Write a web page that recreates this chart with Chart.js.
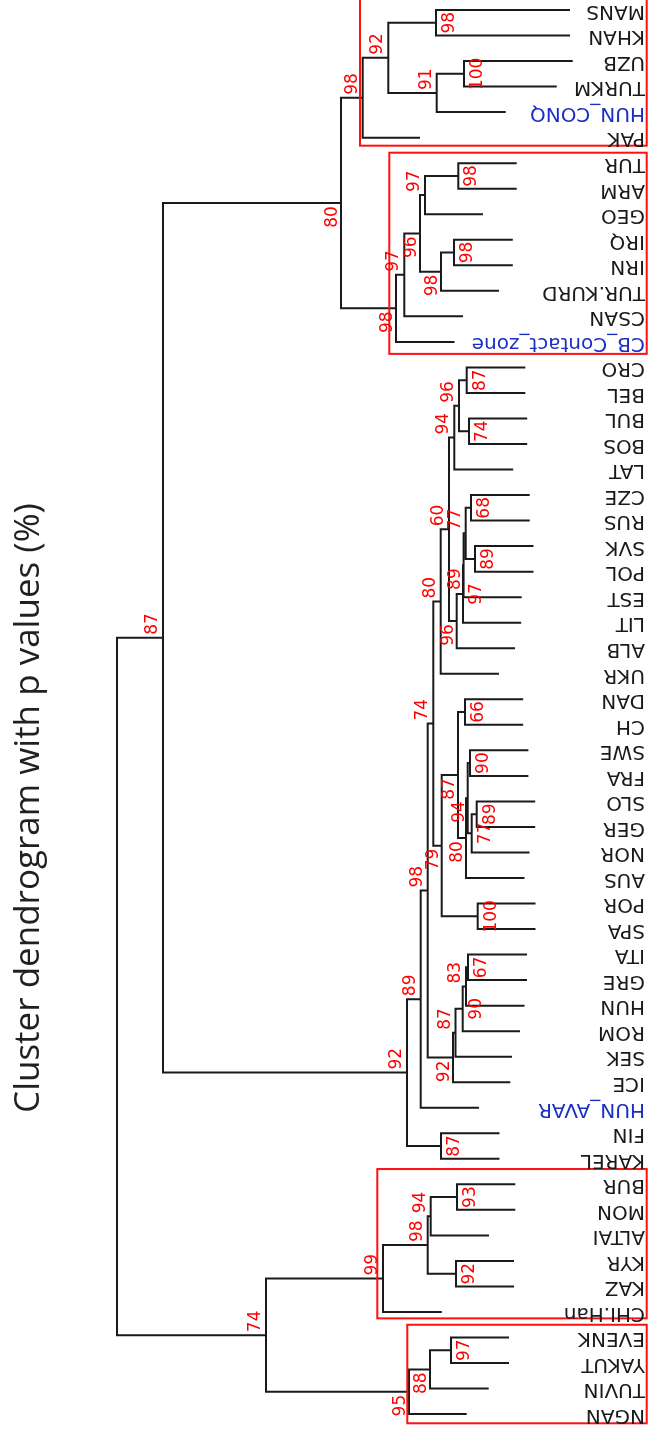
<!DOCTYPE html>
<html>
<head>
<meta charset="utf-8">
<script src="https://cdn.jsdelivr.net/npm/chart.js@4.4.1/dist/chart.umd.min.js"></script>
<style>
  html, body { margin: 0; padding: 0; background: #fff; }
  #wrap { width: 648px; height: 1433px; }
</style>
</head>
<body>
<div id="wrap"><canvas id="c" width="648" height="1433"></canvas></div>
<script>
// leaves, top to bottom
const leaves = [
  'MANS', 'KHAN', 'UZB', 'TURKM', 'HUN_CONQ', 'PAK',
  'TUR', 'ARM', 'GEO', 'IRQ', 'IRN', 'TUR.KURD', 'CSAN', 'CB_Contact_zone',
  'CRO', 'BEL', 'BUL', 'BOS', 'LAT', 'CZE', 'RUS', 'SVK', 'POL', 'EST', 'LIT', 'ALB', 'UKR',
  'DAN', 'CH', 'SWE', 'FRA', 'SLO', 'GER', 'NOR', 'AUS', 'POR', 'SPA',
  'ITA', 'GRE', 'HUN', 'ROM', 'SEK', 'ICE', 'HUN_AVAR', 'FIN', 'KAREL',
  'BUR', 'MON', 'ALTAI', 'KYR', 'KAZ', 'CHI.Han',
  'EVENK', 'YAKUT', 'TUVIN', 'NGAN'
]
const blueLeaves = ['HUN_CONQ', 'CB_Contact_zone', 'HUN_AVAR']

// height where each leaf branch ends
const leafEnd = [
  0.78, 0.78, 0.753, 0.913, 1.423, 2.28,
  1.313, 1.313, 1.65, 1.352, 1.352, 1.49, 1.85, 1.935,
  1.227, 1.227, 1.208, 1.208, 1.348, 1.183, 1.183, 1.145, 1.145, 1.263, 1.268, 1.33, 1.49,
  1.248, 1.248, 1.196, 1.196, 1.128, 1.128, 1.185, 1.235, 1.125, 1.125,
  1.21, 1.21, 1.235, 1.28, 1.36, 1.377, 1.69, 1.485, 1.485,
  1.327, 1.327, 1.59, 1.34, 1.34, 2.062,
  1.39, 1.39, 1.593, 1.813
]

// hclust style merges: negative = leaf number, positive = earlier merge
const merges = [
  [-1, -2], [-3, -4], [2, -5], [1, 3], [4, -6],
  [-7, -8], [6, -9], [-10, -11], [8, -12], [7, 9], [10, -13], [11, -14], [5, 12],
  [-15, -16], [-17, -18], [14, 15], [16, -19],
  [-20, -21], [-22, -23], [18, 19], [20, -24], [21, -25], [22, -26], [17, 23], [24, -27],
  [-28, -29], [-30, -31], [-32, -33], [28, -34], [27, 29], [30, -35], [26, 31],
  [-36, -37], [32, 33], [25, 34],
  [-38, -39], [36, -40], [37, -41], [38, -42], [39, -43], [35, 40], [41, -44],
  [-45, -46], [42, 43],
  [-47, -48], [45, -49], [-50, -51], [46, 47], [48, -52],
  [-53, -54], [50, -55], [51, -56], [49, 52],
  [13, 44], [54, 53]
]
const mergeHeight = [
  2.12, 1.84, 2.113, 2.597, 2.853,
  1.897, 2.23, 1.94, 2.07, 2.28, 2.437, 2.52, 3.07,
  1.813, 1.79, 1.89, 1.937,
  1.77, 1.73, 1.823, 1.844, 1.85, 1.913, 1.99, 2.073,
  1.83, 1.78, 1.713, 1.763, 1.803, 1.82, 1.9,
  1.703, 2.063, 2.147,
  1.8, 1.82, 1.853, 1.925, 1.95, 2.203, 2.273,
  2.07, 2.41,
  1.91, 2.173, 1.92, 2.203, 2.65,
  1.97, 2.18, 2.39, 3.82,
  4.85, 5.31
]
// AU p-values (%)
const auValues = [
  98, 100, 91, 92, 98,
  98, 97, 98, 98, 96, 97, 98, 80,
  87, 74, 96, 94,
  68, 89, 77, 89, 97, 96, 60, 80,
  66, 90, 89, 77, 94, 80, 87,
  100, 79, 74,
  67, 83, 90, 87, 92, 98, 89,
  87, 92,
  93, 94, 92, 98, 99,
  97, 88, 95, 74,
  87, null
]
// where each p-value sits: R = right of node, A = left above, B = left below
const pvSide = [
  'R', 'R', 'A', 'A', 'A',
  'R', 'A', 'R', 'B', 'B', 'A', 'B', 'B',
  'R', 'R', 'A', 'A',
  'R', 'R', 'A', 'B', 'R', 'B', 'A', 'A',
  'R', 'R', 'R', 'R', 'B', 'B', 'B',
  'R', 'B', 'A',
  'R', 'A', 'R', 'A', 'B', 'A', 'A',
  'R', 'A',
  'R', 'A', 'R', 'A', 'A',
  'R', 'B', 'B', 'A',
  'A', 'A'
]

// highlighted clusters: [left height, top leaf pos, bottom leaf pos]
const boxes = [
  [2.88, -1.0, 5.315],
  [2.587, 5.59, 13.47],
  [2.707, 45.4, 51.25],
  [2.407, 51.5, 55.36]
]

// build tree segments
const nodeY = []
function childPos(c) {
  if (c < 0) return { y: -c - 1, h: leafEnd[-c - 1] }
  return { y: nodeY[c - 1], h: mergeHeight[c - 1] }
}
const treePts = []
merges.forEach(([a, b], i) => {
  const A = childPos(a), B = childPos(b)
  const h = mergeHeight[i]
  nodeY[i] = (A.y + B.y) / 2
  treePts.push(
    { x: A.h, y: A.y }, { x: h, y: A.y },
    { x: h, y: B.y }, { x: B.h, y: B.y },
    { x: null, y: null }
  )
})

const dendroText = {
  id: 'dendroText',
  afterDatasetsDraw(chart) {
    const { ctx, scales: { x, y } } = chart
    ctx.save()

    // cluster boxes
    ctx.strokeStyle = '#ff1010'
    ctx.lineWidth = 2
    boxes.forEach(([h, top, bot]) => {
      const l = x.getPixelForValue(h), r = x.getPixelForValue(0.013)
      const t = y.getPixelForValue(top), b = y.getPixelForValue(bot)
      ctx.strokeRect(l, t, r - l, b - t)
    })

    // p-values
    ctx.fillStyle = '#ff0000'
    ctx.font = '17px "DejaVu Sans"'
    merges.forEach((m, i) => {
      if (auValues[i] == null) return
      const px = x.getPixelForValue(mergeHeight[i])
      const py = y.getPixelForValue(nodeY[i])
      let tx, ty, align
      if (pvSide[i] === 'R') { tx = px + 18; ty = py; align = 'center' }
      else if (pvSide[i] === 'A') { tx = px - 6; ty = py - 3; align = 'left' }
      else { tx = px - 4; ty = py + 3; align = 'right' }
      ctx.save()
      ctx.translate(tx, ty)
      ctx.rotate(-Math.PI / 2)
      ctx.textAlign = align
      ctx.textBaseline = 'alphabetic'
      ctx.fillText(String(auValues[i]), 0, 0)
      ctx.restore()
    })

    // leaf labels, upside down
    ctx.font = '20px "DejaVu Sans"'
    leaves.forEach((name, i) => {
      ctx.save()
      ctx.translate(chart.chartArea.right - 3, y.getPixelForValue(i) + 1)
      ctx.rotate(Math.PI)
      ctx.textAlign = 'left'
      ctx.textBaseline = 'middle'
      ctx.fillStyle = blueLeaves.includes(name) ? '#1b2fc4' : '#1a1a1a'
      ctx.fillText(name, 0, 0)
      ctx.restore()
    })

    // title
    ctx.save()
    ctx.translate(39, 808)
    ctx.rotate(-Math.PI / 2)
    ctx.textAlign = 'center'
    ctx.textBaseline = 'alphabetic'
    ctx.fillStyle = '#231f20'
    ctx.font = '35px "Open Sans"'
    ctx.fillText('Cluster dendrogram with p values (%)', 0, 0)
    ctx.restore()

    ctx.restore()
  }
}

new Chart(document.getElementById('c'), {
  type: 'scatter',
  data: {
    datasets: [{
      data: treePts,
      showLine: true,
      spanGaps: false,
      borderColor: '#1a1a1a',
      borderWidth: 2,
      borderJoinStyle: 'miter',
      borderCapStyle: 'butt',
      pointRadius: 0,
      tension: 0,
    }]
  },
  options: {
    responsive: false,
    animation: false,
    devicePixelRatio: 1,
    layout: { padding: 0 },
    plugins: {
      legend: { display: false },
      tooltip: { enabled: false },
    },
    scales: {
      x: { type: 'linear', min: 0, max: 6.48, reverse: true, display: false },
      y: { type: 'linear', min: -0.3917, max: 55.74, reverse: true, display: false },
    },
  },
  plugins: [dendroText],
})
</script>
</body>
</html>
